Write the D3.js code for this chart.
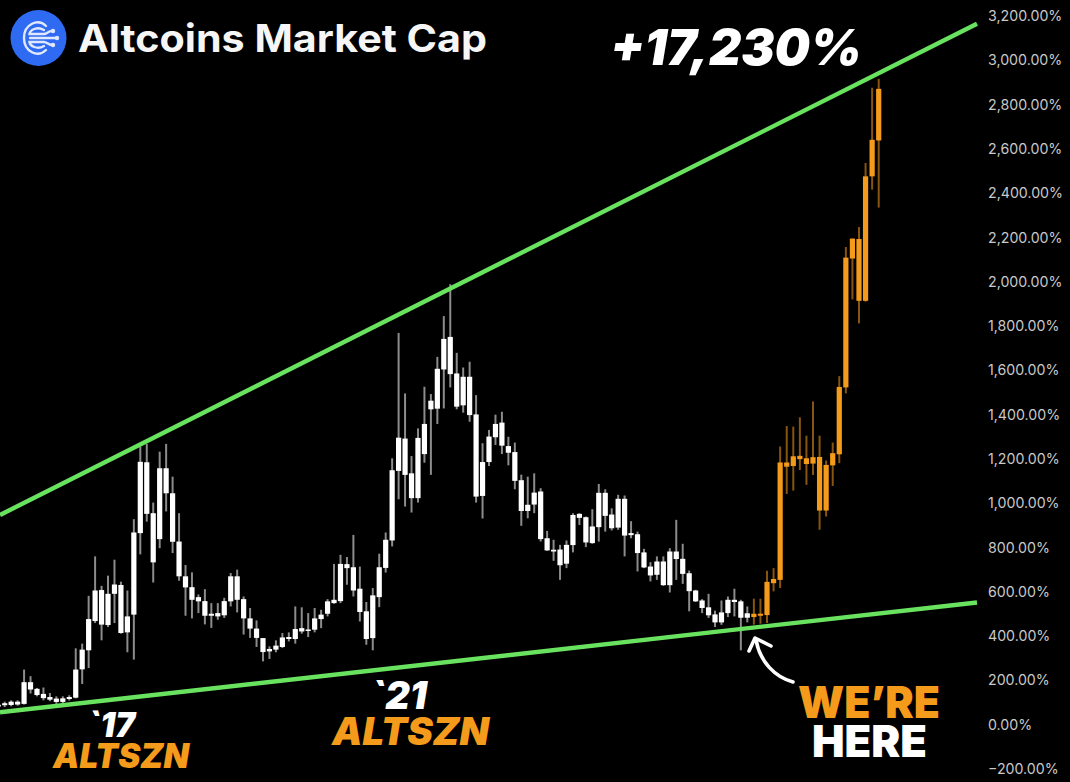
<!DOCTYPE html>
<html><head><meta charset="utf-8">
<script src="https://cdn.jsdelivr.net/npm/d3@7/dist/d3.min.js"></script>
<style>html,body{margin:0;padding:0;background:#000}svg{display:block}</style>
</head><body><div id="chart"></div>
<script>
const highs=[97,
104,110,110,249,219,166,168,143,128,128,
133,345,366,582,760,627,673,745,646,606,
928,1256,1268,1003,1233,1268,1120,955,721,688,
588,612,549,549,573,685,700,579,527,471,
391,354,381,414,417,534,530,504,527,519,
567,726,767,757,857,714,554,617,772,868,
1203,1769,1496,1213,1338,1526,1493,1661,1845,1989,
1679,1613,1639,1488,1271,1331,1400,1413,1300,1274,
1129,1120,1135,1068,875,835,812,832,955,955,
940,973,1087,1063,977,1038,1035,919,872,794,
734,760,760,797,925,817,696,609,567,591,
515,561,579,614,564,534,569,569,695,707,
1256,1349,1346,1388,1305,1459,1305,1193,1274,1574,
2157,2195,2247,2536,2876,2916];
const bodyTops=[90,
97,104,104,192,192,162,139,125,118,119,
125,249,339,477,606,608,591,633,631,489,
868,1187,1185,955,1158,1158,1045,827,670,621,
576,558,501,504,558,670,670,567,480,434,
391,342,357,394,396,432,436,430,480,497,
557,564,726,725,711,614,512,584,711,835,
1149,1296,1292,1135,1295,1358,1463,1607,1742,1751,
1586,1571,1571,1401,1186,1301,1358,1364,1258,1231,
1104,993,1048,1053,842,790,791,812,947,952,
937,895,1047,1047,949,1020,1020,865,860,778,
714,737,737,782,782,749,684,606,561,530,
498,507,564,564,557,503,501,501,645,658,
1184,1184,1212,1214,1203,1208,1209,1173,1226,1525,
2109,2195,2193,2476,2641,2871];
const bodyBottoms=[82,
88,89,91,94,159,134,120,113,103,103,
116,122,250,336,468,452,450,591,414,417,
497,865,952,733,838,1045,826,670,620,564,
557,492,492,489,494,557,564,480,434,392,
328,331,339,351,387,387,421,424,429,477,
501,549,558,707,606,509,387,391,576,708,
832,1146,1128,1023,1023,1222,1424,1427,1604,1583,
1436,1442,1398,1030,1033,1186,1298,1260,1228,1101,
965,965,994,838,787,782,720,727,811,934,
823,820,892,943,887,890,854,856,775,710,
674,677,630,630,748,681,603,557,527,494,
462,462,504,554,483,483,486,492,495,639,
654,1165,1168,1199,1177,1179,967,967,1171,1221,
1523,2105,1914,1914,2476,2638];
const lows=[75,
80,83,86,91,141,128,110,106,94,98,
109,119,184,256,459,381,441,459,411,327,
294,769,917,642,797,963,775,650,492,480,
504,453,437,474,482,534,507,407,392,351,
286,297,327,346,376,366,411,396,417,436,
489,546,549,632,579,466,361,336,531,687,
805,1018,985,958,1003,1183,1128,1358,1428,1523,
1424,1409,1368,1003,931,1168,1263,1222,1171,1063,
898,932,955,827,785,740,654,707,778,902,
802,817,827,872,877,880,760,842,692,707,
647,654,627,597,654,636,512,554,504,482,
441,451,486,489,336,462,452,456,459,602,
617,1042,1057,1150,1083,1128,880,940,1078,1181,
1496,1920,1812,1910,2416,2335];
const rallyStart=117;
const tickValues=[3200,3000,2800,2600,2400,2200,2000,1800,1600,1400,1200,1000,800,600,400,200,0,-200];
const trendX=[0.27,150.96];
const upperTrend=[947,3165];
const lowerTrend=[56,552];
const title="Altcoins Market Cap";
const gainLabel="+17,230%";

const WHITE="#ffffff",ORANGE="#f59b1b",GREEN="#69e35f";
const svg=d3.select("#chart").append("svg").attr("width",1070).attr("height",782)
  .style("background","#000");
const x=d3.scaleLinear().domain([1,116,136]).range([4.7,747.3,878.7]);
const y=d3.scaleLinear().domain([-200,3200]).range([769,16]);

const fmt=v=>(v<0?"\u2212":"")+d3.format(",.2f")(Math.abs(v))+"%";
const axis=d3.axisRight(y).tickValues(tickValues).tickFormat(fmt).tickSize(0).tickPadding(0);
const ag=svg.append("g").attr("transform","translate(988,0)").call(axis);
ag.select(".domain").remove();
ag.selectAll("text").attr("fill","#c9c9c9").style("font-family","Inter").style("font-size","14.2px");

const idx=d3.range(highs.length);
const col=i=>i>=rallyStart?ORANGE:WHITE;
const g=svg.append("g");
g.selectAll("line.wick").data(idx).join("line").attr("class","wick")
  .attr("x1",i=>x(i)).attr("x2",i=>x(i)).attr("y1",i=>y(highs[i])).attr("y2",i=>y(lows[i]))
  .attr("stroke",col).attr("stroke-width",2).attr("stroke-opacity",.55);
g.selectAll("rect.body").data(idx).join("rect").attr("class","body")
  .attr("x",i=>x(i)-2.6).attr("width",5.2)
  .attr("y",i=>y(bodyTops[i])).attr("height",i=>Math.max(1.5,y(bodyBottoms[i])-y(bodyTops[i])))
  .attr("fill",col);

const tl=d3.line().x(d=>x(d[0])).y(d=>y(d[1]));
[upperTrend,lowerTrend].forEach(t=>{
  svg.append("path").attr("d",tl(trendX.map((p,k)=>[p,t[k]])))
    .attr("stroke",GREEN).attr("stroke-width",4.4).attr("fill","none");
});

// logo
const logo=svg.append("g");
logo.append("circle").attr("cx",38.5).attr("cy",38).attr("r",28).attr("fill","#2f6bf2");
const ico=logo.append("g").attr("fill","none").attr("stroke","#dfe8ff").attr("stroke-width",2.4).attr("stroke-linecap","round");
ico.append("path").attr("d","M46 26 C38 18 24 24 24 38 C24 52 38 58 46 50");
ico.append("path").attr("d","M44 30 C37 26 30 30 29.5 34 L44 34 C47 34 48 31 52 31");
ico.append("path").attr("d","M30 38 L56 38");
ico.append("path").attr("d","M44 46 C37 50 30 46 29.5 42 L44 42 C47 42 48 45 52 45");
logo.selectAll("circle.dot").data([[53,31],[57,38],[53,45]]).join("circle").attr("class","dot")
  .attr("cx",d=>d[0]).attr("cy",d=>d[1]).attr("r",2.2).attr("fill","#dfe8ff");

function block(lines,size,weight,italic){
  const t=svg.append("text").attr("font-size",size).attr("font-weight",weight)
    .attr("font-family","Inter").attr("font-style",italic?"italic":"normal");
  lines.forEach(l=>t.append("tspan").text(l.s).attr("x",l.x).attr("y",l.y).attr("fill",l.fill)
    .attr("font-size",l.size||size).attr("textLength",l.w).attr("lengthAdjust","spacingAndGlyphs"));
  return t;
}
block([{s:title,x:78,y:52,fill:"#f6f6f6",w:409}],38,700);
block([{s:gainLabel,x:610,y:65,fill:WHITE,w:252}],50,900,true);
block([{s:"`17",x:87,y:737,fill:WHITE,w:48},{s:"ALTSZN",x:53,y:768,fill:ORANGE,w:136}],34,900,true);
block([{s:"`21",x:370,y:709,fill:WHITE,w:57},{s:"ALTSZN",x:332,y:745,fill:ORANGE,w:157}],38,900,true);
block([{s:"WE\u2019RE",x:798,y:718,fill:ORANGE,w:142},{s:"HERE",x:812,y:757,fill:WHITE,w:115}],44,900);

// arrow
const arrow=svg.append("g").attr("fill","none").attr("stroke",WHITE).attr("stroke-width",3.6).attr("stroke-linecap","round").attr("stroke-linejoin","round");
arrow.append("path").attr("d","M793 682 C775 677 760 662 756 640");
arrow.append("path").attr("d","M749 651 L755 638 L771 646");
</script></body></html>
